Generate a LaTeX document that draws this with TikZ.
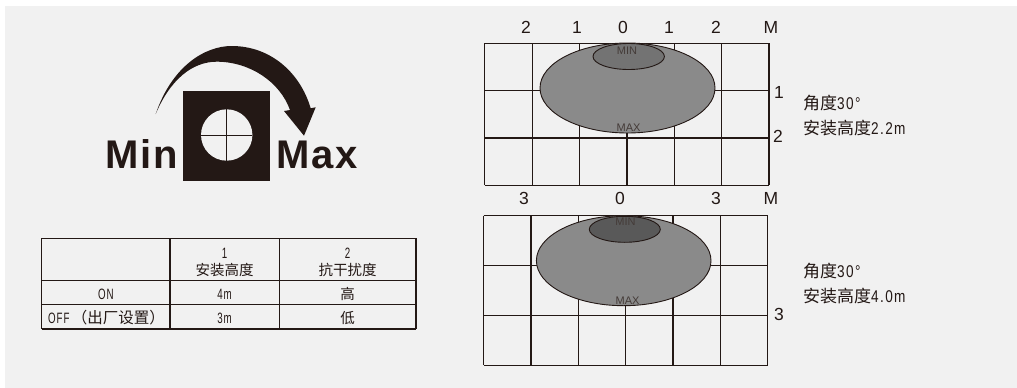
\documentclass[tikz,border=0pt]{standalone}
\usepackage{fontspec}
\setmainfont{Liberation Sans}
\newfontfamily\cjkfont{Noto Sans CJK SC}
\newfontfamily\narrowfont[FakeStretch=0.65,LetterSpace=6]{Liberation Sans}
\newfontfamily\notefont[FakeStretch=0.8,LetterSpace=8]{Liberation Sans}
\newfontfamily\boldfont[LetterSpace=5]{Liberation Sans}
\definecolor{myblack}{HTML}{231815}
\definecolor{mypage}{HTML}{F1F1F1}
\definecolor{myspot}{HTML}{8A8A8A}
\begin{document}
\begin{tikzpicture}[x=1pt,y=-1pt,
  gridline/.style={draw=myblack,line width=1.2pt},
  spotline/.style={draw=myblack,line width=0.9pt},
  axislabel/.style={inner sep=0,font=\fontsize{17.5}{17.5}\selectfont,text=myblack},
  spotlabel/.style={inner sep=0,font=\fontsize{11}{11}\selectfont,text=myblack!85},
  tablelabel/.style={inner sep=0,align=center,font=\fontsize{15}{17}\selectfont,text=myblack},
  tablecjk/.style={inner sep=0,align=center,font=\cjkfont\fontsize{14.5}{17}\selectfont,text=myblack},
  notelabel/.style={inner sep=0,anchor=west,align=left,font=\fontsize{17}{25}\selectfont,text=myblack},
  knoblabel/.style={inner sep=0,anchor=base west,font=\boldfont\bfseries\fontsize{40}{40}\selectfont,text=myblack}]
\fill[white] (0,0) rectangle (1017,388);
\fill[mypage] (5,6) rectangle (1017,388);
\useasboundingbox (0,0) rectangle (1017,388);
% knob
\fill[myblack] (183.3,90.7) rectangle (270.3,181.3);
\fill[mypage] (226.7,135) circle (25.7);
\draw[myblack,line width=1pt] (201,135) -- (252.4,135) (226.7,109.3) -- (226.7,160.7);
\fill[myblack] (155.7,114) .. controls (172,66) and (205,46) .. (231.7,46)
  .. controls (270,46) and (300,72) .. (310.7,108.3) -- (315.7,107.3) -- (304,135.7)
  -- (284,111) -- (290,110) .. controls (280,82) and (250,61.7) .. (216.7,61.7)
  .. controls (192,61.7) and (170,80) .. (155.7,114) -- cycle;
\node[knoblabel] (minlabel) at (105,168.3) {Min};
\node[knoblabel] (maxlabel) at (276,168.3) {Max};
% table
\foreach \x in {41.7,170,279.3,416}
  \draw[gridline] (\x,238.3) -- (\x,329);
\foreach \y in {238.3,280.7,304.3,329}
  \draw[gridline] (41.7,\y) -- (416,\y);
\node[tablelabel] (num1) at (224.6,253) {\narrowfont 1};
\node[tablecjk] (head1) at (224.6,270) {安装高度};
\node[tablelabel] (num2) at (347.6,253) {\narrowfont 2};
\node[tablecjk] (head2) at (347.6,270) {抗干扰度};
\node[tablelabel] (on) at (106,294) {\narrowfont ON};
\node[tablelabel,anchor=west] (off) at (48,318) {\narrowfont OFF\,{\cjkfont\fontsize{15.5}{17}\selectfont （出厂设置）}};
\node[tablelabel] (on1) at (224.6,294) {\narrowfont 4m};
\node[tablelabel] (off1) at (224.6,318) {\narrowfont 3m};
\node[tablecjk] (on2) at (347.6,294) {高};
\node[tablecjk] (off2) at (347.6,318) {低};
% upper grid
\foreach \x in {484.7,532.1,579.5,626.9,674.3,721.7,769}
  \draw[gridline] (\x,43.3) -- (\x,185.3);
\foreach \y in {43.3,90.7,138,185.3}
  \draw[gridline] (484.7,\y) -- (769,\y);
\draw[spotline,fill=myspot] (627.5,88) ellipse (87.5 and 45);
\draw[spotline,fill=black!55] (628.7,56.5) ellipse (35.7 and 13);
\node[spotlabel] (min1) at (627,50.5) {MIN};
\node[spotlabel] (max1) at (628.5,128) {MAX};
\foreach \x/\t [count=\i] in {526/2,577/1,623/0,669/1,716/2,771/M}
  \node[axislabel] (top\i) at (\x,27) {\t};
\node[axislabel] (right1) at (779,92) {1};
\node[axislabel] (right2) at (778,136) {2};
\node[notelabel] (note1) at (803,116) {{\cjkfont 角度}{\notefont 30°}\\{\cjkfont 安装高度}{\notefont 2.2m}};
% lower grid
\foreach \x in {483.7,531,578.3,625.7,673,720.4,767.7}
  \draw[gridline] (\x,215.7) -- (\x,365.3);
\foreach \y in {215.7,265.3,315.3,365.3}
  \draw[gridline] (483.7,\y) -- (767.7,\y);
\draw[spotline,fill=myspot] (623.7,260.7) ellipse (87.3 and 45);
\draw[spotline,fill=black!65] (624.8,229.3) ellipse (35.5 and 13);
\node[spotlabel] (min2) at (625.5,222) {MIN};
\node[spotlabel] (max2) at (627.5,300.5) {MAX};
\foreach \x/\t [count=\i] in {524/3,620/0,716/3,771/M}
  \node[axislabel] (bottom\i) at (\x,198.5) {\t};
\node[axislabel] (right3) at (779,314.5) {3};
\node[notelabel] (note2) at (803,284) {{\cjkfont 角度}{\notefont 30°}\\{\cjkfont 安装高度}{\notefont 4.0m}};
\end{tikzpicture}
\end{document}
